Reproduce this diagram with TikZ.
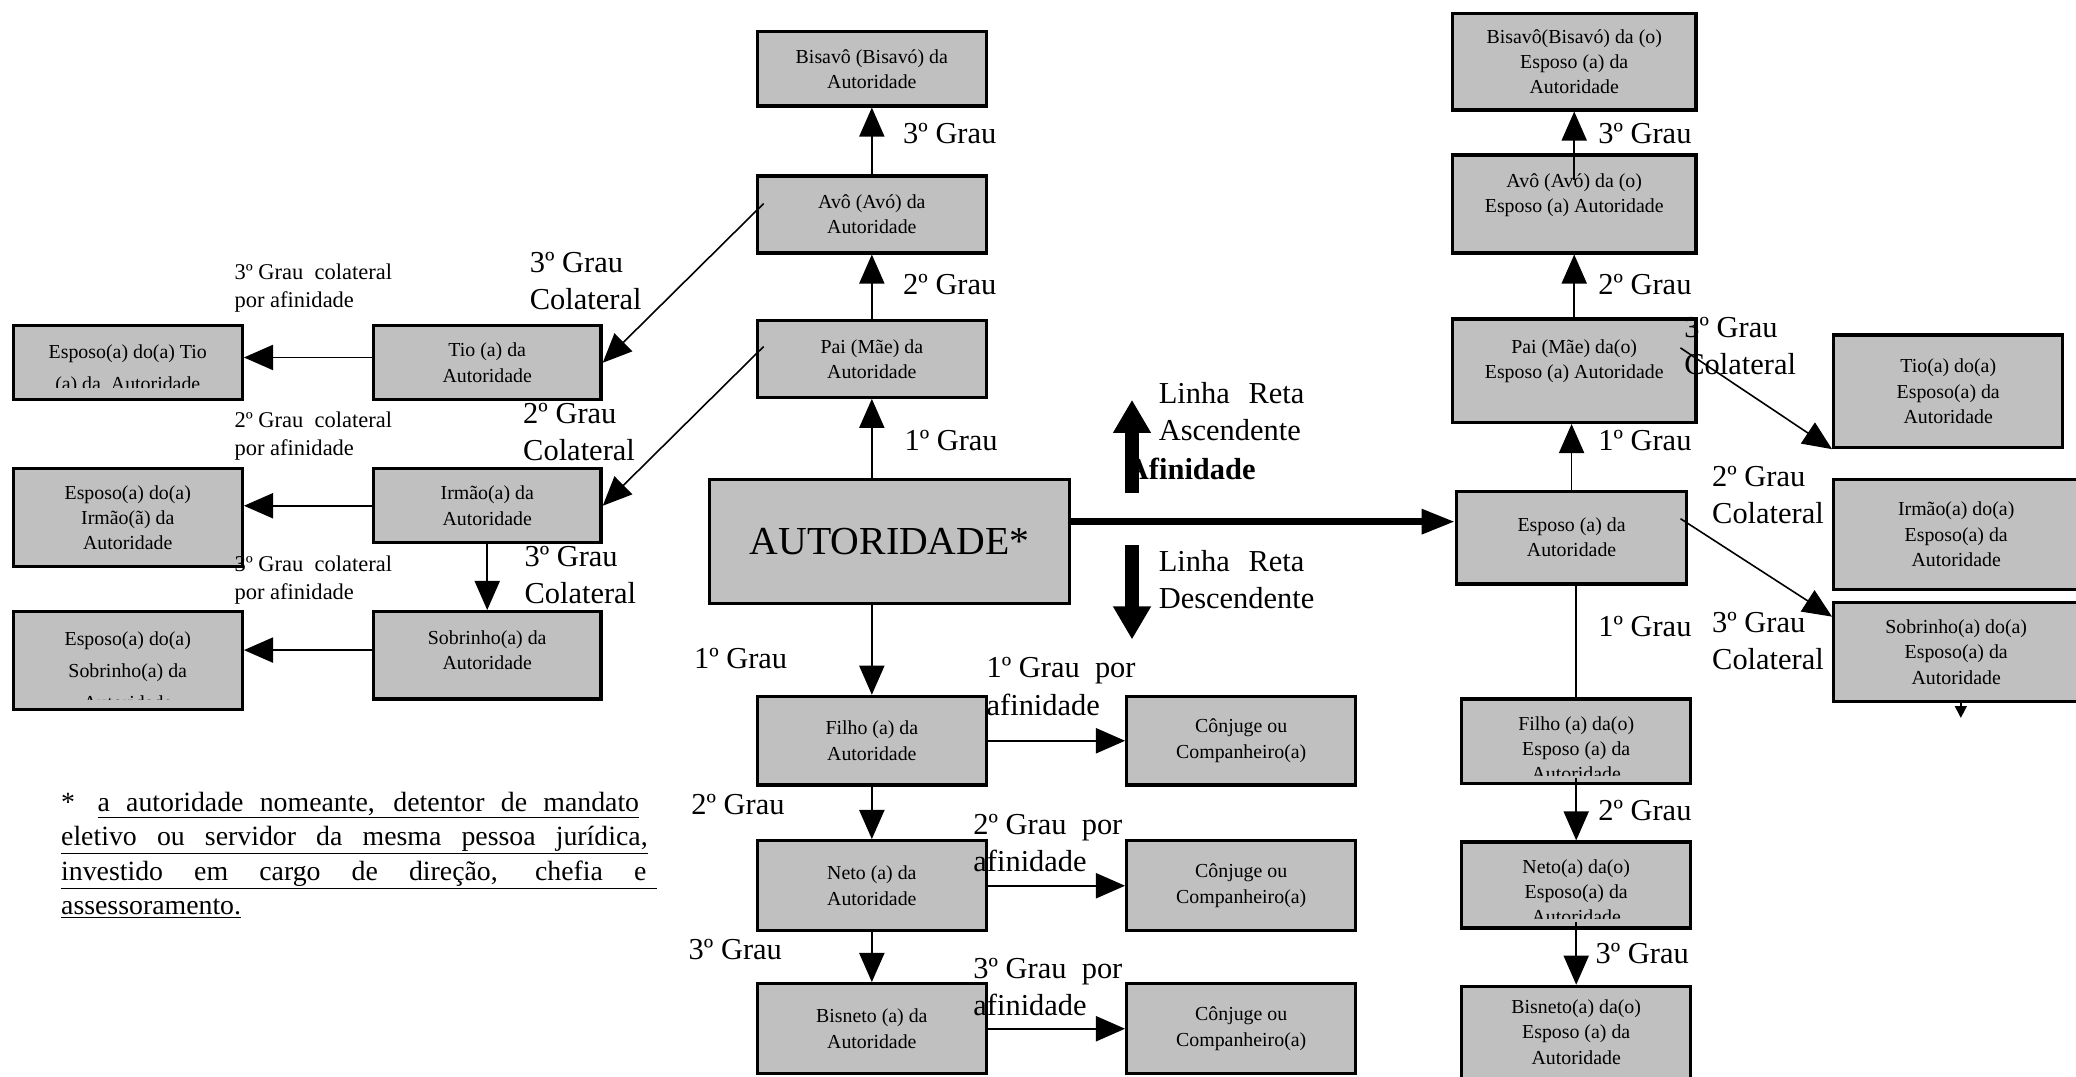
\documentclass[tikz,border=0pt]{standalone}
\usepackage{fontspec}
\setmainfont{Liberation Serif}
\usepackage{xcolor}
\usetikzlibrary{positioning,arrows.meta}
\definecolor{cinza}{RGB}{192,192,192}
% texto da caixa posto a partir do topo e cortado acima da borda de baixo
\tikzset{recorte/.style n args={4}{path picture={
  \clip ([yshift=#2]path picture bounding box.south west) rectangle (path picture bounding box.north east);
  \node[draw=none, fill=none, minimum width=0pt, minimum height=0pt, anchor=north, align=center,
        font=\fontsize{15}{#3}\selectfont] at ([yshift=-#1]path picture bounding box.north) {#4};}}}

\begin{document}
\begin{tikzpicture}[x=1pt,y=1pt]
\tikzstyle{every node}+=[inner sep=0pt]
\tikzstyle{caixa}=[draw=black, fill=cinza, line width=2.5pt, align=center, font=\fontsize{15}{19}\selectfont]
\tikzstyle{grau}=[anchor=west, align=left, font=\fontsize{23}{28}\selectfont]
\tikzstyle{afim}=[anchor=west, align=left, font=\fontsize{17}{21}\selectfont]
\tikzstyle{linha}=[line width=1.2pt]
\tikzstyle{seta}=[line width=1.2pt, -{Triangle[length=22pt,width=19pt]}]
\tikzstyle{setagrossa}=[line width=10pt, -{Triangle[length=25pt,width=27pt]}]
\useasboundingbox (0,0) rectangle (1568,-813);
% lado esquerdo
\node[caixa, minimum width=173, minimum height=56, recorte={13pt}{9pt}{24}{Esposo(a) do(a) Tio\\(a) da\ \ Autoridade}] (espTio) at (96.5,-274) {};
\node[caixa, minimum width=172, minimum height=56] (tio) at (368,-274) {Tio (a) da\\Autoridade};
\node[caixa, minimum width=173, minimum height=74] (espIrm) at (96.5,-391) {Esposo(a) do(a)\\Irmão(ã) da\\Autoridade};
\node[caixa, minimum width=172, minimum height=56] (irm) at (368,-382) {Irmão(a) da\\Autoridade};
\node[caixa, minimum width=173, minimum height=74, recorte={14pt}{8pt}{24}{Esposo(a) do(a)\\Sobrinho(a) da\\Autoridade}] (espSob) at (96.5,-499) {};
\node[caixa, minimum width=172, minimum height=66, recorte={13pt}{0pt}{19}{Sobrinho(a) da\\Autoridade}] (sob) at (368,-495) {};
% linha reta da autoridade
\node[caixa, minimum width=173, minimum height=56] (bisavo) at (658.5,-52) {Bisavô (Bisavó) da\\Autoridade};
\node[caixa, minimum width=173, minimum height=58] (avo) at (658.5,-162) {Avô (Avó) da\\Autoridade};
\node[caixa, minimum width=173, minimum height=58] (pai) at (658.5,-271) {Pai (Mãe) da\\Autoridade};
\node[caixa, minimum width=272, minimum height=94, font=\fontsize{30}{36}\selectfont] (aut) at (672,-409) {AUTORIDADE*};
\node[caixa, minimum width=173, minimum height=67] (filho) at (658.5,-559.5) {Filho (a) da\\Autoridade};
\node[caixa, minimum width=173, minimum height=68] (neto) at (658.5,-669) {Neto (a) da\\Autoridade};
\node[caixa, minimum width=173, minimum height=68] (bisneto) at (658.5,-777) {Bisneto (a) da\\Autoridade};
\node[caixa, minimum width=173, minimum height=67] (conj1) at (937.5,-559.5) {Cônjuge ou\\Companheiro(a)};
\node[caixa, minimum width=173, minimum height=68] (conj2) at (937.5,-669) {Cônjuge ou\\Companheiro(a)};
\node[caixa, minimum width=173, minimum height=68] (conj3) at (937.5,-777) {Cônjuge ou\\Companheiro(a)};
% lado do esposo
\node[caixa, minimum width=184, minimum height=73] (ebisavo) at (1189,-46.5) {Bisavô(Bisavó) da (o)\\Esposo (a) da\\Autoridade};
\node[caixa, minimum width=184, minimum height=74, recorte={13pt}{0pt}{19}{Avô (Avó) da (o)\\Esposo (a) Autoridade}] (eavo) at (1189,-154) {};
\node[caixa, minimum width=184, minimum height=78, recorte={14pt}{0pt}{19}{Pai (Mãe) da(o)\\Esposo (a) Autoridade}] (epai) at (1189,-280) {};
\node[caixa, minimum width=174, minimum height=70] (esp) at (1187,-406) {Esposo (a) da\\Autoridade};
\node[caixa, minimum width=173, minimum height=64, recorte={12pt}{6pt}{19}{Filho (a) da(o)\\Esposo (a) da\\Autoridade}] (efilho) at (1190.5,-560) {};
\node[caixa, minimum width=173, minimum height=65, recorte={12pt}{7pt}{19}{Neto(a) da(o)\\Esposo(a) da\\Autoridade}] (eneto) at (1190.5,-668.5) {};
\node[caixa, minimum width=173, minimum height=74, recorte={9pt}{0pt}{19}{Bisneto(a) da(o)\\Esposo (a) da\\Autoridade}] (ebisneto) at (1190.5,-782) {};
\node[caixa, minimum width=173, minimum height=85] (etio) at (1471.5,-295.5) {Tio(a) do(a)\\Esposo(a) da\\Autoridade};
\node[caixa, minimum width=185, minimum height=83] (eirm) at (1477.5,-403.5) {Irmão(a) do(a)\\Esposo(a) da\\Autoridade};
\node[caixa, minimum width=185, minimum height=75] (esob) at (1477.5,-492.5) {Sobrinho(a) do(a)\\Esposo(a) da\\Autoridade};
% conectores
\draw[seta] (avo.north) -- (bisavo.south);
\draw[seta] (pai.north) -- (avo.south);
\draw[seta] (pai.south |- aut.north) -- (pai.south);
\draw[seta] (filho.north |- aut.south) -- (filho.north);
\draw[seta] (filho.south) -- (neto.north);
\draw[seta] (neto.south) -- (bisneto.north);
\draw[seta] (filho.east) -- (conj1.west);
\draw[seta] (neto.east) -- (conj2.west);
\draw[seta] (bisneto.east) -- (conj3.west);
\draw[seta] ([xshift=6pt,yshift=-22pt]avo.north west) -- (tio.east);
\draw[seta] ([xshift=6pt,yshift=-21pt]pai.north west) -- (irm.east);
\draw[seta] (irm.south) -- (sob.north);
\draw[seta] ([yshift=4pt]tio.west) -- ([yshift=4pt]espTio.east);
\draw[seta] (irm.west) -- (irm.west -| espIrm.east);
\draw[seta] ([yshift=4pt]sob.west) -- ([yshift=4pt]sob.west -| espSob.east);
\draw[line width=5pt, -{Triangle[length=25pt,width=18pt]}] ([yshift=15pt]aut.east) -- ([yshift=12pt]esp.west);
\draw[seta] ([yshift=-20pt]eavo.north) -- (ebisavo.south);
\draw[seta] (epai.north) -- (eavo.south);
\draw[seta] (esp.north) -- (esp.north |- epai.south);
\draw[linha] (efilho.north |- esp.south) -- (efilho.north);
\draw[seta] ([yshift=6pt]efilho.south) -- (eneto.north);
\draw[seta] ([yshift=6pt]eneto.south) -- (ebisneto.north);
\draw[seta] ([xshift=-13pt,yshift=-23pt]epai.north east) -- (etio.south west);
\draw[seta] ([xshift=-6pt,yshift=-22pt]esp.north east) -- ([yshift=-12pt]esob.north west);
\draw[line width=1.2pt, -{Triangle[length=9pt,width=9pt]}] ([xshift=3.5pt]esob.south) -- ++(0,-11);
% setas grossas
\coordinate (asc0) at (855,-372);
\coordinate (asc1) at (855,-302);
\coordinate (desc0) at (855,-412);
\coordinate (desc1) at (855,-483);
\draw[setagrossa] (asc0) -- (asc1);
\draw[setagrossa] (desc0) -- (desc1);
% rotulos
\node[grau] (g3a) at (682,-101) {3º Grau};
\node[grau] (g2a) at (682,-215) {2º Grau};
\node[grau] (g1a) at (683,-333) {1º Grau};
\node[grau] (g1d) at (524,-497) {1º Grau};
\node[grau] (g2d) at (522,-608) {2º Grau};
\node[grau] (g3d) at (520,-717) {3º Grau};
\node[grau] (af1) at (745,-518.5) {1º Grau\ \ por\\afinidade};
\node[grau] (af2) at (735,-636.5) {2º Grau\ \ por\\afinidade};
\node[grau] (af3) at (735,-745.5) {3º Grau\ \ por\\afinidade};
\node[grau] (asc) at (875,-311) {\makebox[110pt][s]{Linha Reta}\\Ascendente};
\node[grau, font=\fontsize{23}{28}\selectfont\bfseries] (afin) at (851,-354) {Afinidade};
\node[grau] (desc) at (875,-438) {\makebox[110pt][s]{Linha Reta}\\Descendente};
\node[grau] (ec3a) at (400,-212) {3º Grau\\Colateral};
\node[grau] (ec2) at (395,-326) {2º Grau\\Colateral};
\node[grau] (ec3b) at (396,-434) {3º Grau\\Colateral};
\node[afim] (pa3a) at (177,-217.5) {3º Grau\ \ colateral\\por afinidade};
\node[afim] (pa2) at (177,-329.5) {2º Grau\ \ colateral\\por afinidade};
\node[afim] (pa3b) at (177,-438) {3º Grau\ \ colateral\\por afinidade};
\node[grau] (r3a) at (1207,-101) {3º Grau};
\node[grau] (r2a) at (1207,-215) {2º Grau};
\node[grau] (r1a) at (1207,-333) {1º Grau};
\node[grau] (r1d) at (1207,-473) {1º Grau};
\node[grau] (r2d) at (1207,-612) {2º Grau};
\node[grau] (r3d) at (1205,-720) {3º Grau};
\node[grau] (dc3a) at (1272,-261) {3º Grau\\Colateral};
\node[grau] (dc2) at (1293,-374) {2º Grau\\Colateral};
\node[grau] (dc3b) at (1293,-484) {3º Grau\\Colateral};
% nota
\node[anchor=north west, align=left, font=\fontsize{21}{26}\selectfont] (nota) at (46,-598)
  {*\hspace{17pt}\underline{\makebox[409pt][s]{a autoridade nomeante, detentor de mandato}}\\
   \underline{\makebox[443pt][s]{eletivo ou servidor da mesma pessoa jurídica,}}\\
   \underline{\makebox[450pt][s]{investido em cargo de direção, chefia e\hspace{8pt}}}\\
   \underline{assessoramento.}};
\end{tikzpicture}
\end{document}
